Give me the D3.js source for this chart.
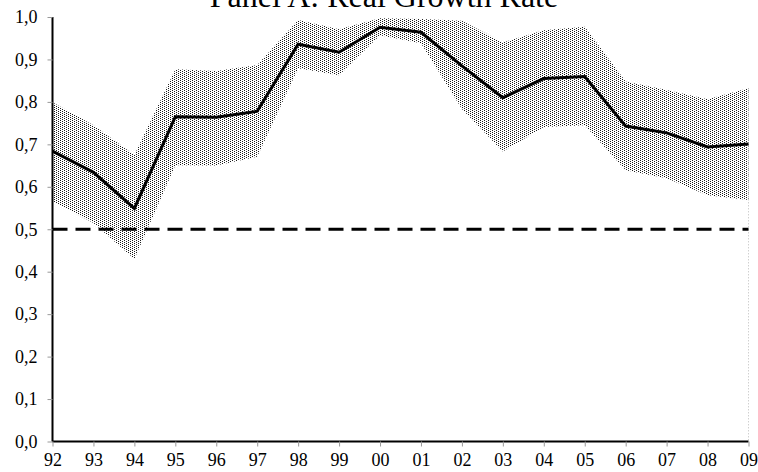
<!DOCTYPE html>
<html><head><meta charset="utf-8">
<script src="https://cdn.jsdelivr.net/npm/d3@7"></script>
<style>body{margin:0;background:#fff}svg{display:block}
.ax text{font-family:'Liberation Serif','Times New Roman',serif !important;font-size:18px !important;fill:#000}
</style>
</head><body><svg id="c" width="758" height="472"></svg>
<script>
const years = ["92","93","94","95","96","97","98","99","00","01","02","03","04","05","06","07","08","09"];
const growth = [0.684,0.634,0.549,0.765,0.764,0.778,0.936,0.917,0.976,0.964,0.885,0.810,0.855,0.860,0.743,0.727,0.694,0.701];
const upper  = [0.799,0.745,0.675,0.877,0.873,0.887,0.993,0.971,0.997,0.995,0.991,0.940,0.969,0.977,0.848,0.828,0.806,0.832];
const lower  = [0.566,0.515,0.430,0.651,0.650,0.671,0.879,0.863,0.957,0.938,0.783,0.683,0.741,0.745,0.639,0.620,0.580,0.569];
const yTicks = [0,0.1,0.2,0.3,0.4,0.5,0.6,0.7,0.8,0.9,1.0];
const threshold = 0.5;
const title = "Panel A: Real Growth Rate";

const svg = d3.select("#c");
const x = d3.scalePoint().domain(years).range([52.5, 748.5]);
const y = d3.scaleLinear().domain([0,1]).range([441.5, 17]);
const fmt = d => d3.format(".1f")(d).replace(".", ",");

const defs = svg.append("defs");
const pat = defs.append("pattern").attr("id","dots").attr("patternUnits","userSpaceOnUse")
  .attr("width",4).attr("height",2);
pat.append("rect").attr("x",0).attr("y",0).attr("width",1).attr("height",1).attr("fill","#000");
pat.append("rect").attr("x",2).attr("y",1).attr("width",1).attr("height",1).attr("fill","#000");

const idx = d3.range(years.length);
svg.append("path").datum(idx)
  .attr("d", d3.area().x(i=>x(years[i])).y0(i=>y(lower[i])).y1(i=>y(upper[i])))
  .attr("fill","url(#dots)").attr("opacity",0.9);

svg.append("line")
  .attr("x1", x(years[years.length-1])).attr("x2", x(years[years.length-1]))
  .attr("y1", y(upper[upper.length-1])).attr("y2", y(0))
  .attr("stroke","#bbb").attr("stroke-width",1).attr("stroke-dasharray","1,2");

svg.append("line").attr("x1",x(years[0])).attr("x2",x(years[years.length-1]))
  .attr("y1",y(threshold)).attr("y2",y(threshold))
  .attr("stroke","#000").attr("stroke-width",3).attr("stroke-dasharray","15,8");

svg.append("path").datum(idx)
  .attr("d", d3.line().x(i=>x(years[i])).y(i=>y(growth[i])))
  .attr("fill","none").attr("stroke","#000").attr("stroke-width",3).attr("stroke-linejoin","miter");

const yAxis = svg.append("g").attr("class","ax").attr("transform","translate(52.5,0)")
  .call(d3.axisLeft(y).tickValues(yTicks).tickFormat(fmt).tickSize(5).tickPadding(10));
const xAxis = svg.append("g").attr("class","ax").attr("transform",`translate(0,${y(0)})`)
  .call(d3.axisBottom(x).tickSize(5).tickPadding(7));
[yAxis,xAxis].forEach(g=>{
  g.attr("font-family","'Liberation Serif', serif").attr("font-size",18);
  g.select(".domain").attr("stroke","#000").attr("stroke-width",2);
  g.selectAll(".tick line").attr("stroke","#999");
});
yAxis.select(".domain").attr("d","M0,17V441.5");
xAxis.select(".domain").attr("d","M52.5,0H748.5");

svg.append("text").attr("x",384).attr("y",7).attr("text-anchor","middle")
  .attr("font-family","'Liberation Serif', 'Times New Roman', serif").attr("font-size",32)
  .text(title);
</script></body></html>
